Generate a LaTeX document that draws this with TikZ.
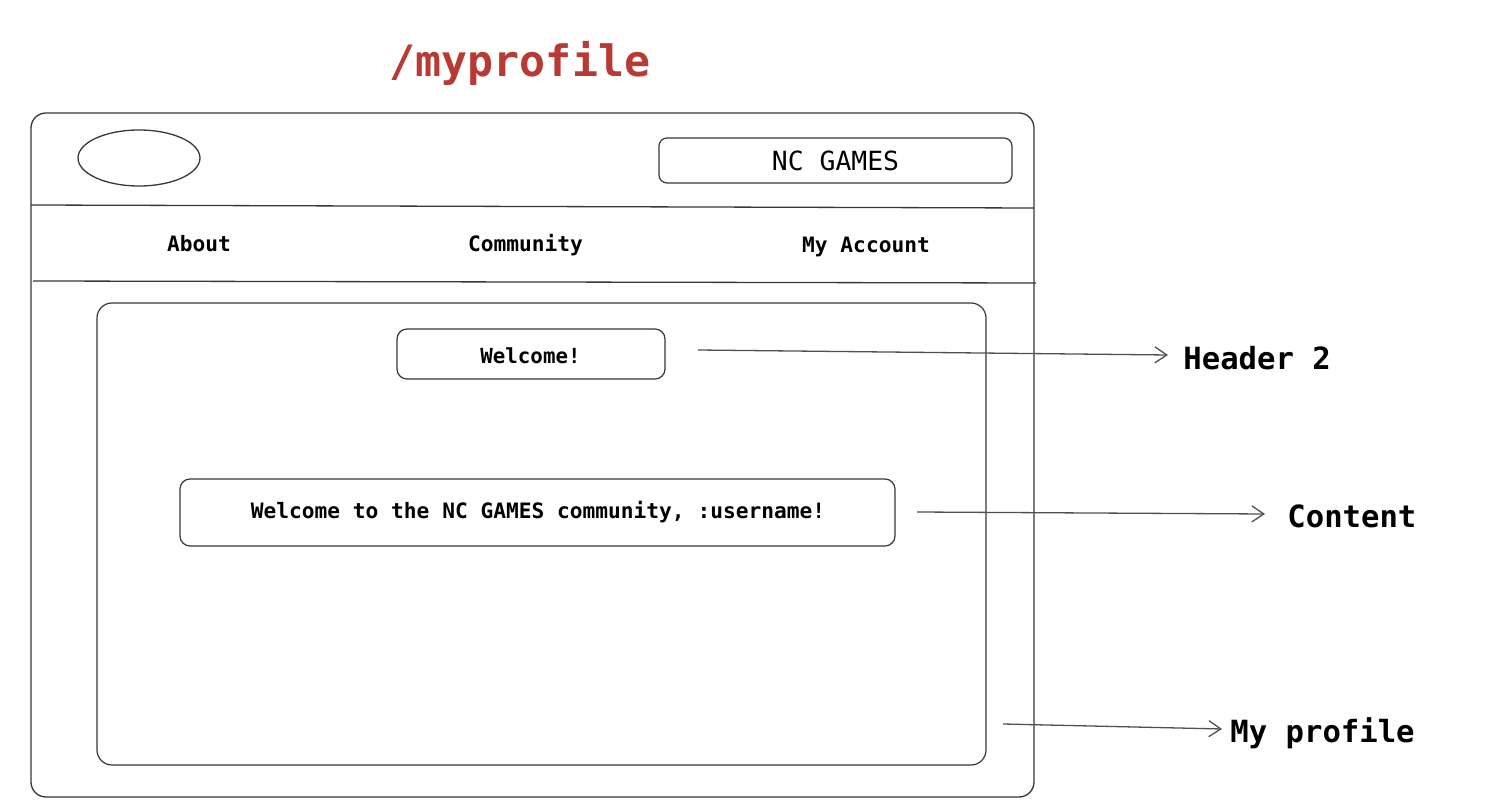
\documentclass[tikz,border=0pt]{standalone}
\usepackage{fontspec}
\setmainfont{DejaVu Sans Mono}
\usetikzlibrary{arrows.meta}
\definecolor{titlered}{RGB}{184,58,50}
\definecolor{linegray}{RGB}{55,55,55}
\definecolor{arrowgray}{RGB}{80,80,80}
\tikzset{
  frame/.style={draw=linegray, line width=0.65pt},
  box/.style={draw=linegray, line width=0.6pt, rounded corners=5pt},
  lbl/.style={inner sep=0pt, text=black},
  callout/.style={draw=arrowgray, line width=0.65pt, -{Straight Barb[length=6pt,width=8pt]}},
}
\begin{document}
\begin{tikzpicture}[x=0.5pt,y=-0.5pt]
\useasboundingbox (0,0) rectangle (1500,812);
% title
\node[lbl, text=titlered, font=\bfseries\fontsize{21.6}{24}\selectfont] (title) at (520,63) {/myprofile};
% outer frame
\draw[frame, rounded corners=7.5pt] (31,113) rectangle (1034,797);
\coordinate (hl1) at (31,205); \coordinate (hr1) at (1034,208);
\draw[frame] (hl1) -- (hr1);
\coordinate (hl2) at (33,281); \coordinate (hr2) at (1036,283);
\draw[frame] (hl2) -- (hr2);
% logo
\draw[frame] (139,158) ellipse [x radius=61, y radius=28];
% brand box
\draw[box, rounded corners=4pt] (659,138) rectangle (1012,183);
\node[lbl, font=\fontsize{13.2}{15}\selectfont] (brand) at (835.5,160.5) {NC GAMES};
% nav
\node[lbl, font=\bfseries\fontsize{10.6}{12}\selectfont] (about) at (199,244) {About};
\node[lbl, font=\bfseries\fontsize{10.6}{12}\selectfont] (community) at (525.5,245) {Community};
\node[lbl, font=\bfseries\fontsize{10.6}{12}\selectfont] (account) at (866,247) {My Account};
% inner content area
\draw[box, rounded corners=7.5pt] (97,303) rectangle (986,765);
% welcome box
\draw[box] (397,329) rectangle (665,379);
\node[lbl, font=\bfseries\fontsize{10.4}{12}\selectfont] (welcome) at (530.5,356) {Welcome!};
\coordinate (welcomeE) at (698,350);
% content box
\draw[box] (180,479) rectangle (895,546);
\node[lbl, font=\bfseries\fontsize{10.6}{12}\selectfont] (content) at (538,512) {Welcome to the NC GAMES community, :username!};
\coordinate (contentE) at (917,512);
\coordinate (profileE) at (1003,724);
% callout labels
\node[lbl, anchor=west, font=\bfseries\fontsize{15.3}{18}\selectfont] (h2) at (1183,358) {Header 2};
\node[lbl, anchor=west, font=\bfseries\fontsize{15.3}{18}\selectfont] (ct) at (1287,516) {Content};
\node[lbl, anchor=west, font=\bfseries\fontsize{15.3}{18}\selectfont] (mp) at (1230,733) {My profile};
% arrows
\draw[callout] (welcomeE) -- ([xshift=-15*0.5pt,yshift=3*0.5pt]h2.west);
\draw[callout] (contentE) -- ([xshift=-22*0.5pt,yshift=2*0.5pt]ct.west);
\draw[callout] (profileE) -- ([xshift=-8*0.5pt,yshift=4*0.5pt]mp.west);
\end{tikzpicture}
\end{document}
